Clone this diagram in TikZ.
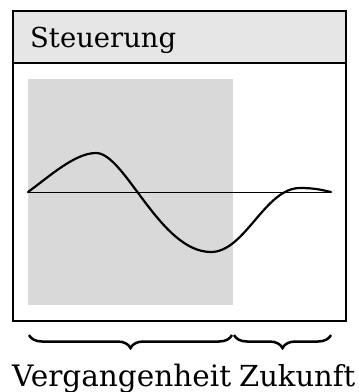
\documentclass[tikz,border=0pt]{standalone}
\usepackage{fontspec}
\setmainfont{DejaVu Serif}
\usetikzlibrary{decorations.pathreplacing}
\definecolor{headgray}{RGB}{230,230,230}
\definecolor{pastgray}{RGB}{217,217,217}
\begin{document}
\begin{tikzpicture}[x=1pt,y=-1pt,
  frameline/.style={line width=1.2pt, draw=black},
  curveline/.style={line width=2.2pt, line cap=round, line join=round},
  axisline/.style={line width=0.9pt},
  bracestyle/.style={line width=2.5pt, decorate, decoration={brace, mirror, amplitude=13pt}},
  textstyle/.style={anchor=base west, inner sep=0, font=\fontsize{30}{34}\selectfont}]
\useasboundingbox (0,0) rectangle (359,392);
\fill[headgray] (13,11) rectangle (346,63);
\fill[pastgray] (28,79) rectangle (233,305);
\draw[frameline] (13,11) rectangle (346,321);
\draw[frameline] (13,63) -- (346,63);
\draw[axisline] (28,192) -- (331,192);
\draw[curveline] (28,192) .. controls (50,176) and (75,153) .. (96,153)
  .. controls (125,153) and (160,252) .. (211,252)
  .. controls (245,252) and (265,188) .. (300,188)
  .. controls (315,188) and (322,190) .. (331,192);
\node[textstyle] (title) at (30,47) {\resizebox{146pt}{!}{Steuerung}};
\coordinate (pastL) at (29,335);
\coordinate (pastR) at (232,335);
\coordinate (futL) at (234,335);
\coordinate (futR) at (331,335);
\draw[bracestyle] (pastL) -- (pastR);
\draw[bracestyle] (futL) -- (futR);
\node[textstyle] (past) at (12,386) {\resizebox{219pt}{!}{Vergangenheit}};
\node[textstyle] (future) at (239,386) {\resizebox{116pt}{!}{Zukunft}};
\end{tikzpicture}
\end{document}
